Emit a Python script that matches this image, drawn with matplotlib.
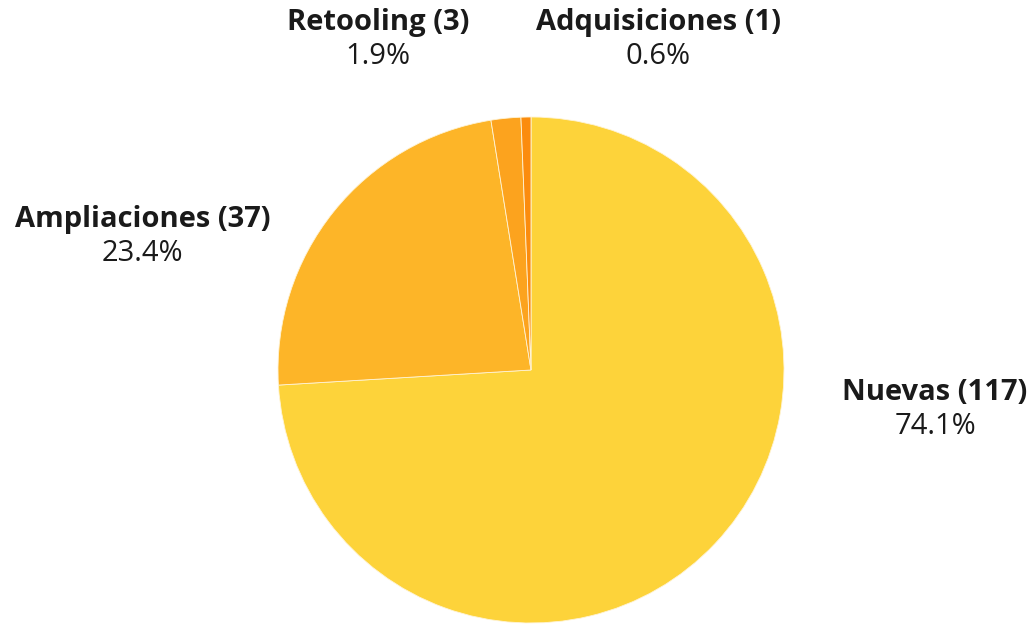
import matplotlib
matplotlib.use("Agg")
import matplotlib.pyplot as plt

# ---------------------------------------------------------------------------
# Data
# ---------------------------------------------------------------------------
categories = ["Nuevas", "Ampliaciones", "Retooling", "Adquisiciones"]
counts     = [117, 37, 3, 1]
colors     = ["#FDD33A", "#FDB528", "#FCA31E", "#FB8C0E"]

# label anchor points (data coords, pie radius = 1)
label_pos = [(1.597, -0.087), (-1.534, 0.593), (-0.605, 1.375), (0.502, 1.375)]

plt.rcParams["font.family"] = ["Open Sans", "DejaVu Sans"]

W, H = 1034, 624
fig = plt.figure(figsize=(W / 100, H / 100), dpi=100)

cx, cy, r = 531, 370, 253
ax = fig.add_axes([(cx - r) / W, (H - cy - r) / H, 2 * r / W, 2 * r / H])

wedges, _ = ax.pie(counts, colors=colors, startangle=90, counterclock=False,
                   radius=1, wedgeprops=dict(edgecolor="#fff4d6", linewidth=0.6))
ax.set_xlim(-1, 1)
ax.set_ylim(-1, 1)
ax.set_aspect("equal")
ax.axis("off")

total = sum(counts)
dy = 34 / r   # gap between name line and percent line
for name, n, (x, y) in zip(categories, counts, label_pos):
    ax.text(x, y, f"{name} ({n})", ha="center", va="center", fontsize=21,
            fontweight="bold", color="#1a1a1a", clip_on=False)
    ax.text(x, y - dy, f"{100 * n / total:.1f}%", ha="center", va="center",
            fontsize=21, color="#1a1a1a", clip_on=False)

fig.savefig("out.png", dpi=100)
